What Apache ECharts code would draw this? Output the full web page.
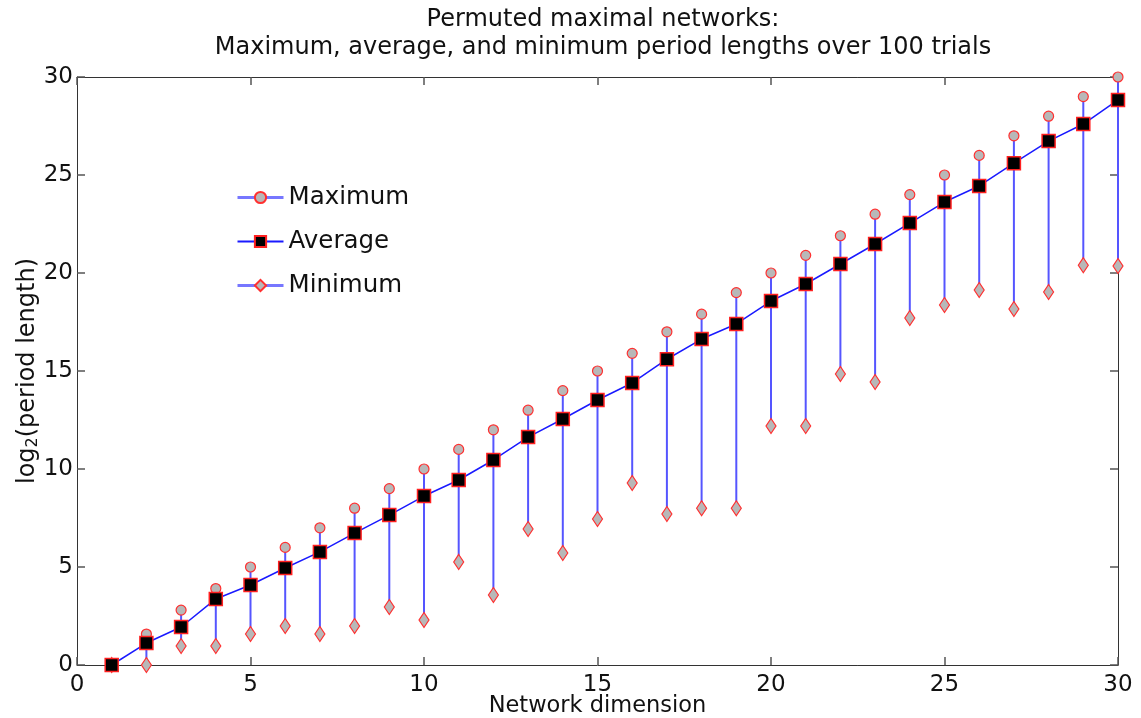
<!DOCTYPE html>
<html><head><meta charset="utf-8">
<script src="https://cdn.jsdelivr.net/npm/echarts@6/dist/echarts.min.js"></script>
<style>html,body{margin:0;padding:0;background:#fff}#c{width:1141px;height:718px}</style>
</head><body><div id="c"></div>
<script>
const dims = [1,2,3,4,5,6,7,8,9,10,11,12,13,14,15,16,17,18,19,20,21,22,23,24,25,26,27,28,29,30];
const maxVals = [0,1.58,2.8,3.9,5,6,7,8,9,10,11,12,13,14,15,15.9,17,17.9,19,20,20.9,21.9,23,24,25,26,27,28,29,30];
const avgVals = [0,1.12,1.94,3.37,4.08,4.95,5.77,6.73,7.65,8.62,9.44,10.46,11.63,12.55,13.52,14.39,15.6,16.63,17.4,18.57,19.44,20.46,21.48,22.55,23.62,24.44,25.6,26.73,27.6,28.83];
const minVals = [0,0,0.97,0.97,1.58,1.99,1.58,1.99,2.96,2.3,5.26,3.57,6.94,5.71,7.45,9.29,7.7,8,8,12.19,12.19,14.85,14.44,17.7,18.37,19.13,18.16,19.03,20.4,20.36];
const xTicks = [0,5,10,15,20,25,30];
const yTicks = [0,5,10,15,20,25,30];
const titleLines = ['Permuted maximal networks:', 'Maximum, average, and minimum period lengths over 100 trials'];

const FONT = 'DejaVu Sans';
const chart = echarts.init(document.getElementById('c'));
const pair = (xs, ys) => xs.map((x,i)=>[x, ys[i]]);
const rangeData = dims.map((d,i)=>[d, minVals[i], maxVals[i]]);

const axisCommon = {
  min: 0, max: 30, interval: 5,
  axisLine: {show: true, onZero: false, lineStyle: {color: '#333', width: 1}},
  axisTick: {show: true, inside: true, length: 8, lineStyle: {color: '#555', width: 1.5}},
  splitLine: {show: false}
};

chart.setOption({
  animation: false,
  backgroundColor: '#fff',
  title: {
    text: titleLines.join('\n'),
    left: 598, top: 1, textAlign: 'center',
    textStyle: {fontFamily: FONT, fontWeight: 'normal', fontSize: 24, color: '#111', lineHeight: 28}
  },
  grid: {left: 77, right: 23, top: 77, bottom: 53, outerBoundsMode: 'none', containLabel: false},
  legend: {
    left: 231, top: 180, orient: 'vertical', itemGap: 19, itemWidth: 46, itemHeight: 14,
    textStyle: {fontFamily: FONT, fontSize: 24.5, color: '#111'},
    data: [
      {name: 'Maximum', lineStyle: {color: '#7777ff', width: 3, opacity: 1}},
      {name: 'Average'},
      {name: 'Minimum', lineStyle: {color: '#7777ff', width: 3, opacity: 1}}
    ]
  },
  xAxis: [
    Object.assign({}, axisCommon, {
      type: 'value', position: 'bottom',
      name: 'Network dimension', nameLocation: 'middle', nameGap: 30, nameMoveOverlap: false,
      nameTextStyle: {fontFamily: FONT, fontSize: 22.5, color: '#111'},
      axisLabel: {fontFamily: FONT, fontSize: 23, color: '#111', margin: 9,
        formatter: v => xTicks.includes(v) ? String(v) : ''}
    }),
    Object.assign({}, axisCommon, {type: 'value', position: 'top', axisLabel: {show: false}})
  ],
  yAxis: [
    Object.assign({}, axisCommon, {
      type: 'value', position: 'left',
      name: '{a|log}{b|2}{a|(period length)}', nameLocation: 'middle', nameGap: 36, nameRotate: 90,
      nameMoveOverlap: false,
      nameTextStyle: {rich: {
        a: {fontFamily: FONT, fontSize: 24, color: '#111'},
        b: {fontFamily: FONT, fontSize: 16, color: '#111', verticalAlign: 'bottom', padding: [11,0,0,0]}
      }},
      axisLabel: {fontFamily: FONT, fontSize: 23, color: '#111', margin: 4,
        formatter: v => yTicks.includes(v) ? String(v) : ''}
    }),
    Object.assign({}, axisCommon, {type: 'value', position: 'right', axisLabel: {show: false}})
  ],
  series: [
    {
      type: 'custom', name: 'range', silent: true, z: 1,
      data: rangeData,
      encode: {x: 0, y: [1,2]},
      renderItem: (params, api) => {
        const p1 = api.coord([api.value(0), api.value(1)]);
        const p2 = api.coord([api.value(0), api.value(2)]);
        return {type: 'line', shape: {x1: p1[0], y1: p1[1], x2: p2[0], y2: p2[1]},
          style: {stroke: '#5555ff', lineWidth: 2}};
      }
    },
    {
      type: 'line', name: 'Average', data: pair(dims, avgVals), z: 3,
      symbol: 'rect', symbolSize: 13,
      lineStyle: {color: '#1a1aff', width: 1.5},
      itemStyle: {color: '#000', borderColor: '#ff2020', borderWidth: 1.5}
    },
    {
      type: 'line', name: 'Maximum', data: pair(dims, maxVals), z: 2,
      symbol: 'circle', symbolSize: 10,
      lineStyle: {color: '#7777ff', width: 0, opacity: 0},
      itemStyle: {color: '#b8b8b8', borderColor: '#ff3030', borderWidth: 1.2}
    },
    {
      type: 'line', name: 'Minimum', data: pair(dims, minVals), z: 2,
      symbol: 'diamond', symbolSize: [10, 15],
      lineStyle: {color: '#7777ff', width: 0, opacity: 0},
      itemStyle: {color: '#b8b8b8', borderColor: '#ff3030', borderWidth: 1.2}
    }
  ]
});
</script></body></html>
